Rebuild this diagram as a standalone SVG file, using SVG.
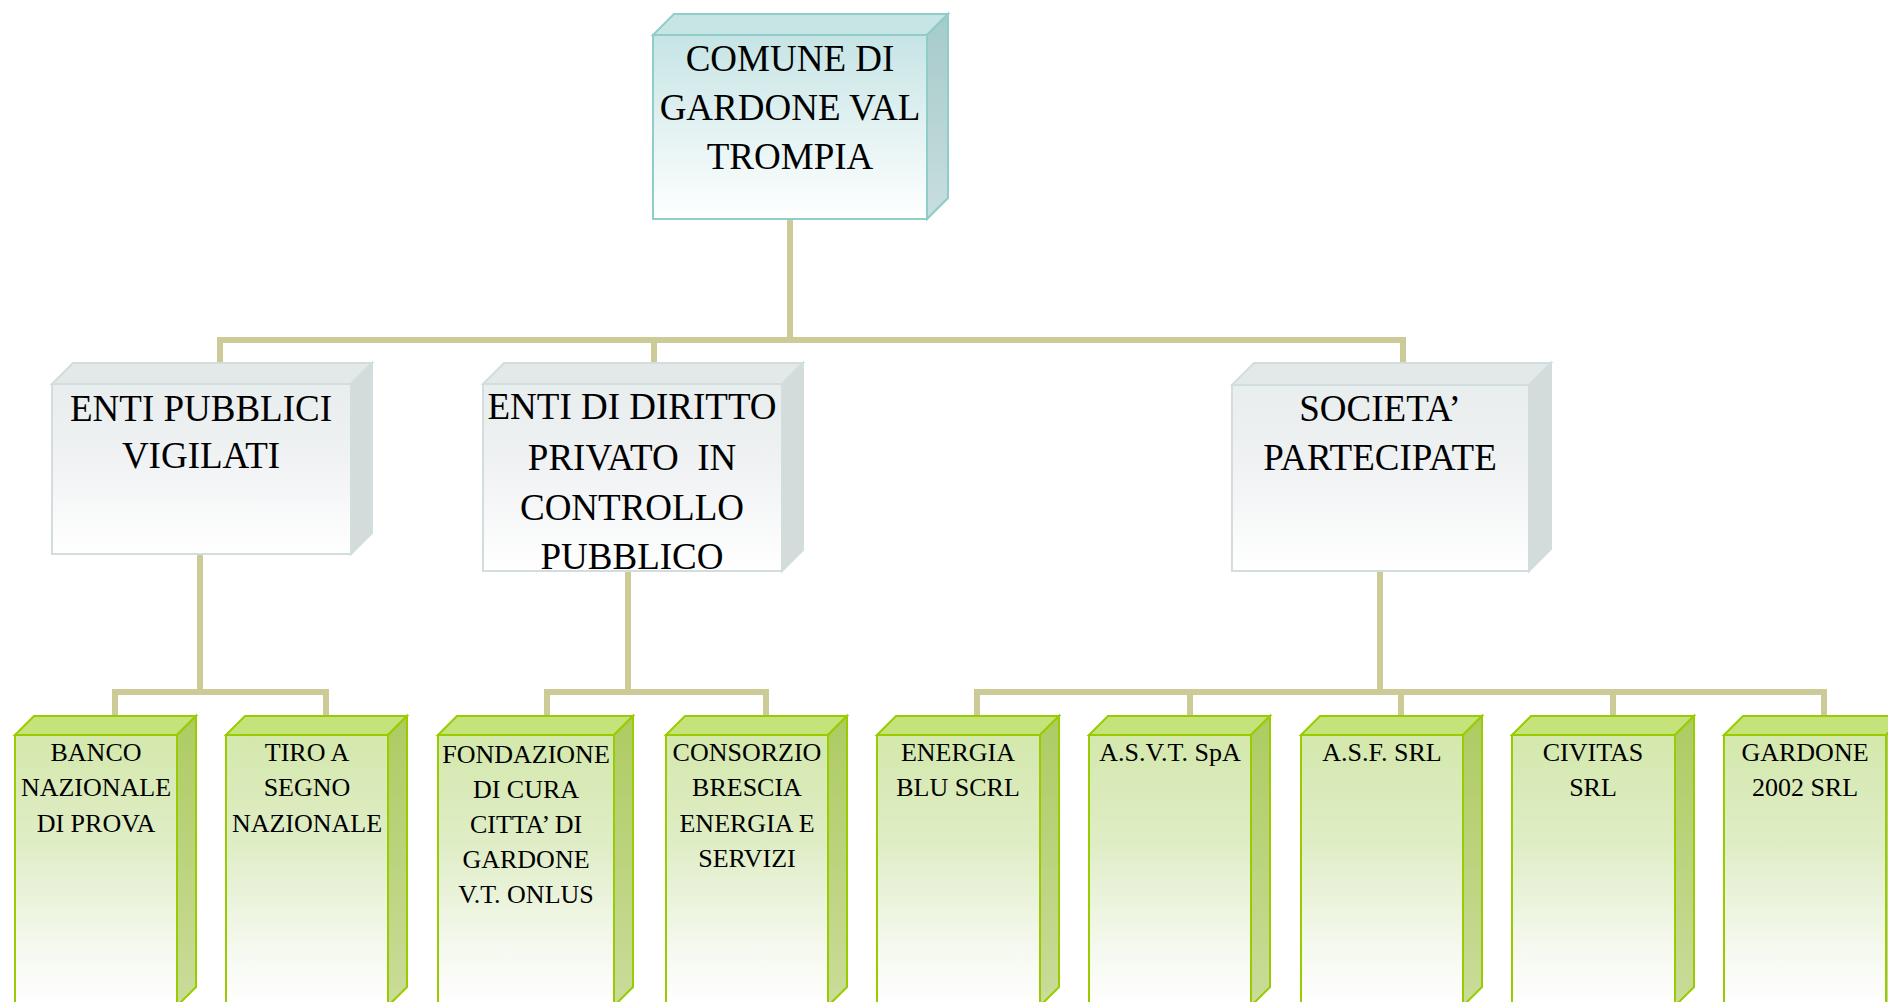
<svg xmlns="http://www.w3.org/2000/svg" width="1888" height="1002" viewBox="0 0 1888 1002">
<defs>
<linearGradient id="gTop" x1="0" y1="0" x2="0" y2="1">
<stop offset="0" stop-color="#c6e4e5"/><stop offset="1" stop-color="#ffffff"/>
</linearGradient>
<linearGradient id="gTopSide" x1="0" y1="0" x2="0" y2="1">
<stop offset="0" stop-color="#a6caca"/><stop offset="1" stop-color="#c8dede"/>
</linearGradient>
<linearGradient id="gMid" x1="0" y1="0" x2="0" y2="1">
<stop offset="0" stop-color="#e8edee"/><stop offset="0.45" stop-color="#f0f2f3"/><stop offset="1" stop-color="#ffffff"/>
</linearGradient>
<linearGradient id="gLow" x1="0" y1="0" x2="0" y2="1">
<stop offset="0" stop-color="#d4e8ac"/><stop offset="0.4" stop-color="#dfedc6"/><stop offset="0.8" stop-color="#f6f9f0"/><stop offset="1" stop-color="#ffffff"/>
</linearGradient>
<linearGradient id="gLowSide" x1="0" y1="0" x2="0" y2="1">
<stop offset="0" stop-color="#aecb62"/><stop offset="1" stop-color="#cadc9a"/>
</linearGradient>
</defs>
<style>
.conn{fill:none;stroke:#cccb98;stroke-width:6;stroke-linejoin:miter}
.topF{fill:url(#gTop);stroke:#8ecdc8;stroke-width:2}
.topT{fill:#c8e5e5;stroke:#8ecdc8;stroke-width:2}
.topS{fill:url(#gTopSide);stroke:#8ecdc8;stroke-width:2}
.midF{fill:url(#gMid);stroke:#d2dddd;stroke-width:2}
.midT{fill:#e3e9e9;stroke:#d2dddd;stroke-width:2}
.midS{fill:#d3dbdb;stroke:#d2dddd;stroke-width:2}
.lowF{fill:url(#gLow);stroke:#99cc00;stroke-width:2}
.lowT{fill:#c6e27a;stroke:#99cc00;stroke-width:2}
.lowS{fill:url(#gLowSide);stroke:#99cc00;stroke-width:2}
text{font-family:"Liberation Serif","Times New Roman",serif;fill:#000;text-anchor:middle;white-space:pre}
.t1{font-size:37px}
.t3{font-size:26px}
</style>
<rect width="1888" height="1002" fill="#ffffff"/>
<g id="connectors">
<path class="conn" d="M790 219 V340"/>
<path class="conn" d="M220 366 V340 H1403 V366"/>
<path class="conn" d="M654 340 V366"/>
<path class="conn" d="M200 554 V692"/>
<path class="conn" d="M115 720 V692 H326 V720"/>
<path class="conn" d="M628 571 V692"/>
<path class="conn" d="M547 720 V692 H766 V720"/>
<path class="conn" d="M1380 571 V692"/>
<path class="conn" d="M977 720 V692 H1824 V720"/>
<path class="conn" d="M1190 692 V720"/>
<path class="conn" d="M1401 692 V720"/>
<path class="conn" d="M1613 692 V720"/>
</g>
<g id="comune">
<polygon class="topT" points="653,35 674,14 948,14 927,35"/>
<polygon class="topS" points="927,35 948,14 948,198 927,219"/>
<rect class="topF" x="653" y="35" width="274" height="184"/>
<text class="t1" x="790" y="71">COMUNE DI</text>
<text class="t1" x="790" y="120">GARDONE VAL</text>
<text class="t1" x="790" y="169">TROMPIA</text>
</g>
<g id="enti-pubblici">
<polygon class="midT" points="52,384 73,363 372,363 351,384"/>
<polygon class="midS" points="351,384 372,363 372,533 351,554"/>
<rect class="midF" x="52" y="384" width="299" height="170"/>
<text class="t1" x="201" y="421">ENTI PUBBLICI</text>
<text class="t1" x="201" y="468">VIGILATI</text>
</g>
<g id="enti-diritto-privato">
<polygon class="midT" points="483,384 504,363 803,363 782,384"/>
<polygon class="midS" points="782,384 803,363 803,550 782,571"/>
<rect class="midF" x="483" y="384" width="299" height="187"/>
<text class="t1" x="632" y="419">ENTI DI DIRITTO</text>
<text class="t1" x="632" y="470">PRIVATO  IN</text>
<text class="t1" x="632" y="520">CONTROLLO</text>
<text class="t1" x="632" y="569">PUBBLICO</text>
</g>
<g id="societa">
<polygon class="midT" points="1232,385 1254,363 1551,363 1529,385"/>
<polygon class="midS" points="1529,385 1551,363 1551,549 1529,571"/>
<rect class="midF" x="1232" y="385" width="297" height="186"/>
<text class="t1" x="1380" y="421">SOCIETA’</text>
<text class="t1" x="1380" y="470">PARTECIPATE</text>
</g>
<g id="banco">
<polygon class="lowT" points="15,735 34,716 196,716 177,735"/>
<polygon class="lowS" points="177,735 196,716 196,987 177,1006"/>
<rect class="lowF" x="15" y="735" width="162" height="271"/>
<text class="t3" x="96" y="761">BANCO</text>
<text class="t3" x="96" y="796">NAZIONALE</text>
<text class="t3" x="96" y="832">DI PROVA</text>
</g>
<g id="tiro">
<polygon class="lowT" points="226,735 245,716 407,716 388,735"/>
<polygon class="lowS" points="388,735 407,716 407,987 388,1006"/>
<rect class="lowF" x="226" y="735" width="162" height="271"/>
<text class="t3" x="307" y="761">TIRO A</text>
<text class="t3" x="307" y="796">SEGNO</text>
<text class="t3" x="307" y="832">NAZIONALE</text>
</g>
<g id="fondazione">
<polygon class="lowT" points="438,735 457,716 633,716 614,735"/>
<polygon class="lowS" points="614,735 633,716 633,987 614,1006"/>
<rect class="lowF" x="438" y="735" width="176" height="271"/>
<text class="t3" x="526" y="763">FONDAZIONE</text>
<text class="t3" x="526" y="798">DI CURA</text>
<text class="t3" x="526" y="833">CITTA’ DI</text>
<text class="t3" x="526" y="868">GARDONE</text>
<text class="t3" x="526" y="903">V.T. ONLUS</text>
</g>
<g id="consorzio">
<polygon class="lowT" points="666,735 685,716 847,716 828,735"/>
<polygon class="lowS" points="828,735 847,716 847,987 828,1006"/>
<rect class="lowF" x="666" y="735" width="162" height="271"/>
<text class="t3" x="747" y="761">CONSORZIO</text>
<text class="t3" x="747" y="796">BRESCIA</text>
<text class="t3" x="747" y="832">ENERGIA E</text>
<text class="t3" x="747" y="867">SERVIZI</text>
</g>
<g id="energia-blu">
<polygon class="lowT" points="877,735 896,716 1059,716 1040,735"/>
<polygon class="lowS" points="1040,735 1059,716 1059,987 1040,1006"/>
<rect class="lowF" x="877" y="735" width="163" height="271"/>
<text class="t3" x="958" y="761">ENERGIA</text>
<text class="t3" x="958" y="796">BLU SCRL</text>
</g>
<g id="asvt">
<polygon class="lowT" points="1089,735 1108,716 1270,716 1251,735"/>
<polygon class="lowS" points="1251,735 1270,716 1270,987 1251,1006"/>
<rect class="lowF" x="1089" y="735" width="162" height="271"/>
<text class="t3" x="1170" y="761">A.S.V.T. SpA</text>
</g>
<g id="asf">
<polygon class="lowT" points="1301,735 1320,716 1482,716 1463,735"/>
<polygon class="lowS" points="1463,735 1482,716 1482,987 1463,1006"/>
<rect class="lowF" x="1301" y="735" width="162" height="271"/>
<text class="t3" x="1382" y="761">A.S.F. SRL</text>
</g>
<g id="civitas">
<polygon class="lowT" points="1512,735 1531,716 1694,716 1675,735"/>
<polygon class="lowS" points="1675,735 1694,716 1694,987 1675,1006"/>
<rect class="lowF" x="1512" y="735" width="163" height="271"/>
<text class="t3" x="1593" y="761">CIVITAS</text>
<text class="t3" x="1593" y="796">SRL</text>
</g>
<g id="gardone-2002">
<polygon class="lowT" points="1724,735 1743,716 1905,716 1886,735"/>
<polygon class="lowS" points="1886,735 1905,716 1905,987 1886,1006"/>
<rect class="lowF" x="1724" y="735" width="162" height="271"/>
<text class="t3" x="1805" y="761">GARDONE</text>
<text class="t3" x="1805" y="796">2002 SRL</text>
</g>
</svg>
